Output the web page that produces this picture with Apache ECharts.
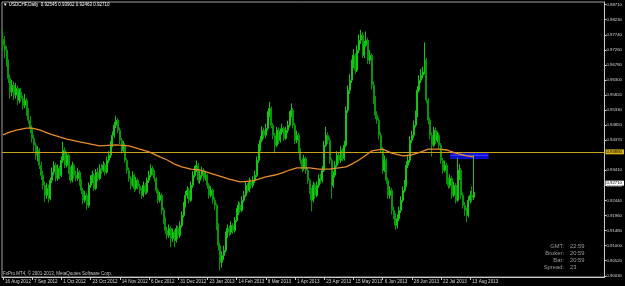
<!DOCTYPE html>
<html>
<head>
<meta charset="utf-8">
<title>USDCHF,Daily</title>
<script src="https://cdn.jsdelivr.net/npm/echarts/dist/echarts.min.js"></script>
<style>
    html, body { margin: 0; padding: 0; background: #000; }
    #main { width: 625px; height: 286px; }
</style>
</head>
<body>
<div id="main"></div>
<script>
// daily bars, 16 Aug 2012 .. 15 Aug 2013
var opens = [
    0.9760,0.9741,0.9725,0.9687,0.9635,0.9591,0.9613,0.9581,0.9603,0.9565,
    0.9591,0.9571,0.9549,0.9565,0.9527,0.9501,0.9475,0.9443,0.9421,0.9389,
    0.9405,0.9357,0.9325,0.9293,0.9261,0.9283,0.9251,0.9309,0.9335,0.9357,
    0.9315,0.9347,0.9325,0.9373,0.9405,0.9357,0.9389,0.9341,0.9309,0.9357,
    0.9325,0.9315,0.9335,0.9303,0.9277,0.9245,0.9261,0.9229,0.9293,0.9309,
    0.9325,0.9283,0.9335,0.9315,0.9347,0.9341,0.9357,0.9335,0.9373,0.9389,
    0.9421,0.9453,0.9485,0.9501,0.9469,0.9437,0.9405,0.9421,0.9373,0.9341,
    0.9315,0.9293,0.9325,0.9283,0.9309,0.9290,0.9277,0.9261,0.9293,0.9271,
    0.9309,0.9325,0.9347,0.9335,0.9315,0.9277,0.9245,0.9261,0.9213,0.9181,
    0.9149,0.9133,0.9155,0.9123,0.9143,0.9117,0.9155,0.9133,0.9165,0.9197,
    0.9229,0.9261,0.9277,0.9245,0.9293,0.9325,0.9341,0.9357,0.9309,0.9325,
    0.9341,0.9315,0.9325,0.9293,0.9261,0.9277,0.9245,0.9229,0.9165,0.9101,
    0.9047,0.9069,0.9085,0.9133,0.9155,0.9143,0.9165,0.9149,0.9181,0.9207,
    0.9229,0.9213,0.9245,0.9261,0.9293,0.9277,0.9303,0.9293,0.9309,0.9325,
    0.9373,0.9411,0.9437,0.9469,0.9453,0.9475,0.9517,0.9539,0.9485,0.9453,
    0.9421,0.9469,0.9437,0.9463,0.9475,0.9443,0.9469,0.9485,0.9517,0.9533,
    0.9485,0.9437,0.9453,0.9405,0.9373,0.9347,0.9379,0.9341,0.9309,0.9277,
    0.9245,0.9293,0.9261,0.9293,0.9315,0.9309,0.9341,0.9421,0.9453,0.9437,
    0.9373,0.9293,0.9325,0.9357,0.9389,0.9373,0.9405,0.9379,0.9421,0.9533,
    0.9597,0.9629,0.9677,0.9709,0.9661,0.9725,0.9757,0.9773,0.9709,0.9741,
    0.9757,0.9693,0.9709,0.9613,0.9565,0.9517,0.9501,0.9453,0.9405,0.9341,
    0.9373,0.9309,0.9261,0.9277,0.9213,0.9197,0.9165,0.9187,0.9213,0.9245,
    0.9277,0.9293,0.9357,0.9373,0.9437,0.9453,0.9485,0.9517,0.9597,0.9629,
    0.9645,0.9655,0.9693,0.9565,0.9501,0.9453,0.9421,0.9469,0.9437,0.9453,
    0.9421,0.9373,0.9341,0.9357,0.9309,0.9293,0.9315,0.9261,0.9293,0.9245,
    0.9325,0.9341,0.9261,0.9229,0.9213,0.9197,0.9245,0.9261,0.92545
];
var closes = [
    0.9741,0.9725,0.9687,0.9635,0.9591,0.9613,0.9581,0.9603,0.9565,0.9591,
    0.9571,0.9549,0.9565,0.9527,0.9501,0.9475,0.9443,0.9421,0.9389,0.9405,
    0.9357,0.9325,0.9293,0.9261,0.9283,0.9251,0.9309,0.9335,0.9357,0.9315,
    0.9347,0.9325,0.9373,0.9405,0.9357,0.9389,0.9341,0.9309,0.9357,0.9325,
    0.9315,0.9335,0.9303,0.9277,0.9245,0.9261,0.9229,0.9293,0.9309,0.9325,
    0.9283,0.9335,0.9315,0.9347,0.9341,0.9357,0.9335,0.9373,0.9389,0.9421,
    0.9453,0.9485,0.9501,0.9469,0.9437,0.9405,0.9421,0.9373,0.9341,0.9315,
    0.9293,0.9325,0.9283,0.9309,0.9290,0.9277,0.9261,0.9293,0.9271,0.9309,
    0.9325,0.9347,0.9335,0.9315,0.9277,0.9245,0.9261,0.9213,0.9181,0.9149,
    0.9133,0.9155,0.9123,0.9143,0.9117,0.9155,0.9133,0.9165,0.9197,0.9229,
    0.9261,0.9277,0.9245,0.9293,0.9325,0.9341,0.9357,0.9309,0.9325,0.9341,
    0.9315,0.9325,0.9293,0.9261,0.9277,0.9245,0.9229,0.9165,0.9101,0.9047,
    0.9069,0.9085,0.9133,0.9155,0.9143,0.9165,0.9149,0.9181,0.9207,0.9229,
    0.9213,0.9245,0.9261,0.9293,0.9277,0.9303,0.9293,0.9309,0.9325,0.9373,
    0.9411,0.9437,0.9469,0.9453,0.9475,0.9517,0.9539,0.9485,0.9453,0.9421,
    0.9469,0.9437,0.9463,0.9475,0.9443,0.9469,0.9485,0.9517,0.9533,0.9485,
    0.9437,0.9453,0.9405,0.9373,0.9347,0.9379,0.9341,0.9309,0.9277,0.9245,
    0.9293,0.9261,0.9293,0.9315,0.9309,0.9341,0.9421,0.9453,0.9437,0.9373,
    0.9293,0.9325,0.9357,0.9389,0.9373,0.9405,0.9379,0.9421,0.9533,0.9597,
    0.9629,0.9677,0.9709,0.9661,0.9725,0.9757,0.9773,0.9709,0.9741,0.9757,
    0.9693,0.9709,0.9613,0.9565,0.9517,0.9501,0.9453,0.9405,0.9341,0.9373,
    0.9309,0.9261,0.9277,0.9213,0.9197,0.9165,0.9187,0.9213,0.9245,0.9277,
    0.9293,0.9357,0.9373,0.9437,0.9453,0.9485,0.9517,0.9597,0.9629,0.9645,
    0.9655,0.9693,0.9565,0.9501,0.9453,0.9421,0.9469,0.9437,0.9453,0.9421,
    0.9373,0.9341,0.9357,0.9309,0.9293,0.9315,0.9261,0.9293,0.9245,0.9325,
    0.9341,0.9261,0.9229,0.9213,0.9197,0.9245,0.9261,0.9255,0.92710
];
var lows = [
    0.9720,0.9700,0.9672,0.9620,0.9570,0.9578,0.9565,0.9570,0.9550,0.9555,
    0.9560,0.9535,0.9540,0.9515,0.9490,0.9460,0.9430,0.9400,0.9375,0.9370,
    0.9345,0.9310,0.9280,0.9240,0.9250,0.9238,0.9245,0.9300,0.9325,0.9305,
    0.9308,0.9312,0.9320,0.9365,0.9348,0.9350,0.9330,0.9300,0.9302,0.9315,
    0.9305,0.9308,0.9292,0.9265,0.9232,0.9238,0.9215,0.9222,0.9285,0.9300,
    0.9275,0.9278,0.9305,0.9310,0.9330,0.9335,0.9325,0.9330,0.9365,0.9380,
    0.9415,0.9445,0.9475,0.9460,0.9425,0.9395,0.9398,0.9365,0.9330,0.9305,
    0.9280,0.9288,0.9272,0.9278,0.9280,0.9265,0.9250,0.9255,0.9262,0.9265,
    0.9300,0.9318,0.9325,0.9305,0.9268,0.9235,0.9238,0.9200,0.9170,0.9138,
    0.9120,0.9125,0.9095,0.9112,0.9095,0.9110,0.9120,0.9125,0.9158,0.9190,
    0.9222,0.9250,0.9235,0.9240,0.9285,0.9318,0.9335,0.9300,0.9298,0.9315,
    0.9305,0.9308,0.9282,0.9250,0.9255,0.9235,0.9215,0.9150,0.9085,0.9022,
    0.9030,0.9055,0.9078,0.9125,0.9130,0.9135,0.9138,0.9142,0.9175,0.9198,
    0.9205,0.9208,0.9238,0.9255,0.9268,0.9270,0.9282,0.9285,0.9300,0.9318,
    0.9365,0.9402,0.9430,0.9442,0.9445,0.9468,0.9510,0.9475,0.9440,0.9395,
    0.9415,0.9425,0.9430,0.9455,0.9435,0.9438,0.9460,0.9478,0.9510,0.9475,
    0.9425,0.9428,0.9395,0.9362,0.9335,0.9340,0.9330,0.9298,0.9265,0.9210,
    0.9238,0.9250,0.9255,0.9285,0.9298,0.9302,0.9335,0.9415,0.9425,0.9362,
    0.9250,0.9285,0.9318,0.9350,0.9362,0.9365,0.9370,0.9372,0.9415,0.9525,
    0.9585,0.9620,0.9668,0.9650,0.9655,0.9715,0.9745,0.9700,0.9700,0.9735,
    0.9682,0.9680,0.9600,0.9552,0.9505,0.9490,0.9440,0.9395,0.9330,0.9335,
    0.9298,0.9250,0.9250,0.9200,0.9185,0.9150,0.9155,0.9178,0.9205,0.9238,
    0.9270,0.9288,0.9348,0.9365,0.9428,0.9445,0.9478,0.9510,0.9590,0.9620,
    0.9635,0.9648,0.9555,0.9488,0.9440,0.9385,0.9415,0.9425,0.9430,0.9410,
    0.9362,0.9330,0.9335,0.9298,0.9282,0.9285,0.9250,0.9255,0.9235,0.9240,
    0.9310,0.9250,0.9218,0.9195,0.9175,0.9190,0.9235,0.9240,0.92463
];
var highs = [
    0.9795,0.9770,0.9738,0.9695,0.9648,0.9630,0.9625,0.9620,0.9612,0.9602,
    0.9605,0.9580,0.9585,0.9572,0.9540,0.9515,0.9485,0.9455,0.9430,0.9418,
    0.9412,0.9368,0.9340,0.9305,0.9300,0.9295,0.9318,0.9350,0.9370,0.9365,
    0.9360,0.9355,0.9385,0.9432,0.9415,0.9400,0.9395,0.9352,0.9368,0.9362,
    0.9340,0.9348,0.9342,0.9312,0.9285,0.9275,0.9270,0.9302,0.9325,0.9340,
    0.9332,0.9345,0.9350,0.9360,0.9362,0.9370,0.9365,0.9385,0.9402,0.9435,
    0.9465,0.9495,0.9515,0.9508,0.9478,0.9445,0.9435,0.9428,0.9380,0.9350,
    0.9322,0.9338,0.9330,0.9320,0.9315,0.9298,0.9285,0.9305,0.9300,0.9318,
    0.9340,0.9360,0.9355,0.9342,0.9320,0.9285,0.9272,0.9268,0.9222,0.9190,
    0.9160,0.9168,0.9162,0.9155,0.9150,0.9165,0.9162,0.9178,0.9210,0.9240,
    0.9275,0.9290,0.9285,0.9305,0.9338,0.9355,0.9372,0.9365,0.9340,0.9352,
    0.9348,0.9338,0.9330,0.9300,0.9290,0.9283,0.9255,0.9235,0.9172,0.9110,
    0.9082,0.9100,0.9145,0.9168,0.9165,0.9178,0.9172,0.9192,0.9220,0.9242,
    0.9238,0.9258,0.9275,0.9305,0.9300,0.9318,0.9312,0.9322,0.9340,0.9385,
    0.9425,0.9450,0.9482,0.9478,0.9490,0.9530,0.9560,0.9545,0.9492,0.9460,
    0.9480,0.9478,0.9475,0.9490,0.9482,0.9480,0.9500,0.9530,0.9555,0.9540,
    0.9492,0.9468,0.9460,0.9412,0.9380,0.9390,0.9385,0.9350,0.9315,0.9285,
    0.9305,0.9300,0.9305,0.9328,0.9330,0.9355,0.9435,0.9480,0.9462,0.9445,
    0.9380,0.9338,0.9370,0.9402,0.9398,0.9418,0.9412,0.9435,0.9545,0.9612,
    0.9648,0.9695,0.9728,0.9715,0.9740,0.9775,0.9790,0.9782,0.9755,0.9785,
    0.9765,0.9725,0.9715,0.9625,0.9578,0.9530,0.9510,0.9462,0.9415,0.9388,
    0.9380,0.9318,0.9290,0.9285,0.9225,0.9205,0.9200,0.9225,0.9258,0.9290,
    0.9310,0.9370,0.9390,0.9450,0.9468,0.9500,0.9532,0.9610,0.9645,0.9665,
    0.9672,0.9750,0.9700,0.9572,0.9510,0.9462,0.9480,0.9478,0.9465,0.9460,
    0.9428,0.9380,0.9372,0.9365,0.9318,0.9328,0.9322,0.9305,0.9300,0.9382,
    0.9360,0.9348,0.9270,0.9240,0.9222,0.9258,0.9275,0.9290,0.93902
];

// moving average, read at a few bars
var maIdx = [0,4,8,13,16,20,26,31,35,42,53,62,69,75,80,86,90,94,98,103,108,113,117,124,130,137,
    140,144,149,153,157,161,168,173,179,184,188,191,195,199,202,208,213,219,224,229,233,239,243,248,254,258];
var maVal = [0.9454,0.9464,0.9470,0.9476,0.9476,0.9470,0.9457,0.9448,0.9441,0.9432,0.9419,0.9422,0.9419,
    0.9409,0.9400,0.9384,0.9374,0.9361,0.9352,0.9345,0.9342,0.9333,0.9326,0.9313,0.9304,0.9307,
    0.9313,0.9320,0.9326,0.9333,0.9342,0.9349,0.9349,0.9345,0.9345,0.9349,0.9352,0.9361,0.9374,
    0.9390,0.9403,0.9409,0.9396,0.9387,0.9390,0.9400,0.9409,0.9409,0.9406,0.9396,0.9387,0.9384];

var priceTicks = [0.98710,0.98230,0.97740,0.97260,0.96780,0.96300,0.95820,0.95330,0.94850,0.94370,
    0.93410,0.92930,0.92440,0.91960,0.91480,0.91000,0.90520,0.90030];
var dateLabels = ['16 Aug 2012','7 Sep 2012','1 Oct 2012','23 Oct 2012','14 Nov 2012','6 Dec 2012',
    '31 Dec 2012','23 Jan 2013','14 Feb 2013','8 Mar 2013','1 Apr 2013','23 Apr 2013','15 May 2013',
    '6 Jun 2013','28 Jun 2013','22 Jul 2013','13 Aug 2013'];

var hLine = 0.93890;       // yellow horizontal line
var bidPrice = 0.92710;
var boxFrom = 245, boxTo = 266, boxHigh = 0.93985, boxLow = 0.93775;

var infoNames = ['GMT:', 'Broker:', 'Bar:', 'Spread:'];
var infoValues = ['22:59', '20:59', '20:59', '23'];

var SLOTS = 330;
var monthNames = ['Jan','Feb','Mar','Apr','May','Jun','Jul','Aug','Sep','Oct','Nov','Dec'];

(function () {
    var myChart = echarts.init(document.getElementById('main'), null, { renderer: 'canvas' });

    // trading days (weekdays, no 25 Dec / 1 Jan)
    var cats = [];
    var d = new Date(Date.UTC(2012, 7, 16));
    while (cats.length < SLOTS) {
        var wd = d.getUTCDay(), m = d.getUTCMonth(), dd = d.getUTCDate();
        var skip = wd === 0 || wd === 6 || (m === 11 && dd === 25) || (m === 0 && dd === 1);
        if (!skip) cats.push(dd + ' ' + monthNames[m] + ' ' + d.getUTCFullYear());
        d.setUTCDate(dd + 1);
    }

    var bars = [];
    for (var i = 0; i < closes.length; i++) {
        bars.push([opens[i], closes[i], lows[i], highs[i]]);
    }
    var ma = [];
    for (var j = 0; j < maIdx.length; j++) ma.push([maIdx[j], maVal[j]]);

    var tiny = 'Liberation Sans';
    var showDate = function (index) { return index % 16 === 0 && index / 16 < dateLabels.length; };

    var graphics = [{
        type: 'text', left: 3, top: 2,
        style: { text: '\u25BC USDCHF,Daily  0.92545 0.93902 0.92463 0.92710', fill: '#fff', font: '4.5px ' + tiny }
    }, {
        type: 'text', left: 3, top: 271.5,
        style: { text: 'FxPro MT4, \u00A9 2001-2013, MetaQuotes Software Corp.', fill: '#c8c8c8', font: '4.5px ' + tiny }
    }];
    for (var k = 0; k < infoNames.length; k++) {
        graphics.push({
            type: 'text', x: 564, y: 246 + k * 7.2,
            style: { text: infoNames[k], fill: '#9c9c9c', font: '5.8px ' + tiny, align: 'right', verticalAlign: 'middle' }
        });
        graphics.push({
            type: 'text', x: 570, y: 246 + k * 7.2,
            style: { text: infoValues[k], fill: '#9c9c9c', font: '5.8px ' + tiny, align: 'left', verticalAlign: 'middle' }
        });
    }

    var option = {
        animation: false,
        backgroundColor: '#000',
        grid: { left: 2, right: 20, top: 2, bottom: 9, show: true, borderColor: '#a0a0a0', borderWidth: 1 },
        xAxis: {
            type: 'category',
            data: cats,
            boundaryGap: true,
            axisLine: { show: true, lineStyle: { color: '#c8c8c8', width: 1 } },
            axisTick: { show: true, alignWithLabel: true, length: 3, interval: showDate, lineStyle: { color: '#c8c8c8' } },
            axisLabel: {
                interval: showDate,
                formatter: function (v, index) { return dateLabels[index / 16] || ''; },
                align: 'left', margin: 2, padding: [0, 0, 0, 2],
                color: '#d8d8d8', fontSize: 4.6, fontFamily: tiny
            },
            splitLine: { show: false }
        },
        yAxis: {
            type: 'value',
            position: 'right',
            min: 0.9000,
            max: 0.9879,
            axisLine: { show: true, lineStyle: { color: '#c8c8c8', width: 1 } },
            axisTick: { show: true, length: 2, customValues: priceTicks, lineStyle: { color: '#c8c8c8' } },
            axisLabel: {
                customValues: priceTicks,
                formatter: function (v) { return v.toFixed(5); },
                margin: 2, color: '#d8d8d8', fontSize: 4.3, fontFamily: tiny
            },
            splitLine: { show: false }
        },
        graphic: graphics,
        series: [{
            type: 'candlestick',
            z: 2,
            barWidth: 1.5,
            data: bars,
            itemStyle: {
                color: '#3ee83e', borderColor: '#16c416',
                color0: '#078507', borderColor0: '#0a960a',
                borderWidth: 1
            }
        }, {
            type: 'line',
            z: 3,
            data: [],
            markLine: {
                silent: true, symbol: 'none', animation: false,
                data: [{
                    yAxis: hLine,
                    lineStyle: { color: '#c9a21c', width: 1, type: 'solid' },
                    label: {
                        show: true, position: 'end', distance: 1,
                        formatter: hLine.toFixed(5),
                        backgroundColor: '#d4b01c', color: '#000',
                        fontSize: 4.3, fontFamily: tiny, padding: [1, 2, 0, 1]
                    }
                }, {
                    yAxis: bidPrice,
                    lineStyle: { color: 'rgba(0,0,0,0)', width: 1 },
                    label: {
                        show: true, position: 'end', distance: 1,
                        formatter: bidPrice.toFixed(5),
                        backgroundColor: '#ffffff', color: '#000',
                        fontSize: 4.3, fontFamily: tiny, padding: [1, 2, 0, 1]
                    }
                }]
            }
        }, {
            type: 'line',
            z: 4,
            data: [],
            markArea: {
                silent: true,
                data: [
                    [{ xAxis: boxFrom, yAxis: boxHigh, itemStyle: { color: '#0a0ad0', opacity: 1 } },
                     { xAxis: boxTo, yAxis: boxLow }],
                    [{ xAxis: boxFrom, yAxis: hLine + 0.00015, itemStyle: { color: '#4646ff', opacity: 1 } },
                     { xAxis: boxTo, yAxis: hLine - 0.00015 }]
                ]
            }
        }, {
            type: 'line',
            z: 5,
            data: ma,
            showSymbol: false,
            symbol: 'none',
            lineStyle: { color: '#e88c2c', width: 1.3 }
        }]
    };
    myChart.setOption(option);
    window.addEventListener('resize', function () {
        myChart.resize();
    });
})();
</script>
</body>
</html>
